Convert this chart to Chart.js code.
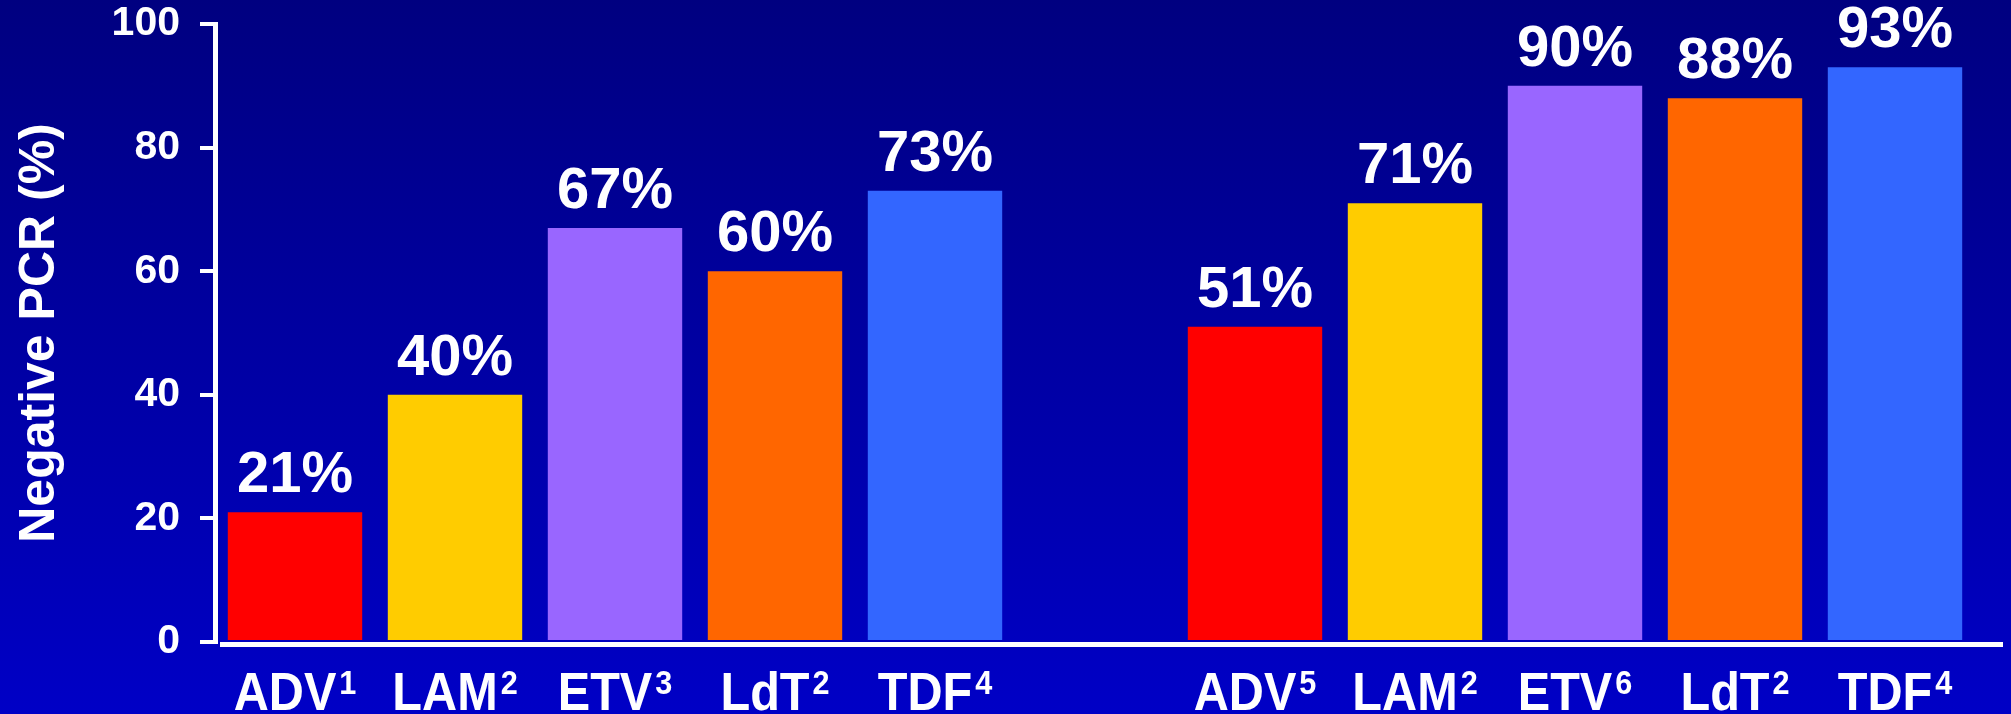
<html>
  <head>
    <script src="https://cdn.jsdelivr.net/npm/chart.js@4.4.1/dist/chart.umd.min.js"></script>
    <style>
      body { margin: 0; background: #000; }
      #wrap {
        width: 2011px; height: 714px; position: relative;
        background: linear-gradient(#000080, #0000c6);
      }
    </style>
  </head>
  <body>
    <div id="wrap"><canvas id="chart" width="2011" height="714"></canvas></div>
    <script>
// categories (blank slot separates the two groups)
const drugs = ["ADV", "LAM", "ETV", "LdT", "TDF", "", "ADV", "LAM", "ETV", "LdT", "TDF"];
const refs = ["1", "2", "3", "2", "4", "", "5", "2", "6", "2", "4"];
const negativePcr = [21, 40, 67, 60, 73, null, 51, 71, 90, 88, 93];
const barColors = ["#ff0000", "#ffcc00", "#9966ff", "#ff6600", "#3366ff", "#000000",
                   "#ff0000", "#ffcc00", "#9966ff", "#ff6600", "#3366ff"];
const yMin = 0, yMax = 100, yStep = 20;
const yTitle = "Negative PCR (%)";

const FONT = "'Liberation Sans', Arial, sans-serif";

var labelPlugin = {
  id: "labels",
  afterDatasetsDraw(chart) {
    var ctx = chart.ctx;
    var area = chart.chartArea;
    var xs = chart.scales.x;
    var meta = chart.getDatasetMeta(0);
    ctx.save();
    // baseline
    ctx.fillStyle = "#fff";
    ctx.fillRect(area.left + 5, area.bottom, 2003 - area.left - 5, 5);

    meta.data.forEach((bar, i) => {
      var v = negativePcr[i];
      if (v == null) return;
      ctx.font = "bold 58px " + FONT;
      ctx.textAlign = "center";
      ctx.textBaseline = "alphabetic";
      ctx.fillText(v + "%", bar.x, bar.y - 20);
    });

    // category labels with superscript refs
    drugs.forEach((d, i) => {
      if (!d) return;
      var cx = xs.getPixelForValue(i);
      var sx = 0.9;
      ctx.font = "bold 54px " + FONT;
      var w1 = ctx.measureText(d).width * sx;
      ctx.font = "bold 34px " + FONT;
      var w2 = ctx.measureText(refs[i]).width * sx;
      var x0 = cx - (w1 + 3 + w2) / 2;
      ctx.textAlign = "left";
      ctx.textBaseline = "alphabetic";
      ctx.save();
      ctx.translate(x0, 710);
      ctx.scale(sx, 1);
      ctx.font = "bold 54px " + FONT;
      ctx.fillText(d, 0, 0);
      ctx.restore();
      ctx.save();
      ctx.translate(x0 + w1 + 3, 694);
      ctx.scale(sx, 1);
      ctx.font = "bold 34px " + FONT;
      ctx.fillText(refs[i], 0, 0);
      ctx.restore();
    });
    ctx.restore();
  }
};

new Chart(document.getElementById("chart"), {
  type: "bar",
  data: {
    labels: drugs,
    datasets: [{
      data: negativePcr,
      backgroundColor: barColors,
      borderWidth: 0,
      barPercentage: 0.84,
      categoryPercentage: 1
    }]
  },
  options: {
    responsive: false,
    animation: false,
    devicePixelRatio: 1,
    layout: { padding: { top: 24, right: 36, left: 0, bottom: 0 } },
    plugins: { legend: { display: false }, tooltip: { enabled: false } },
    scales: {
      x: {
        grid: { display: false },
        border: { display: false },
        ticks: { display: false },
        afterFit: s => { s.height = 714 - 642; }
      },
      y: {
        min: yMin,
        max: yMax,
        ticks: {
          stepSize: yStep,
          color: "#fff",
          padding: 20,
          font: { family: FONT, size: 41, weight: "bold" }
        },
        grid: {
          drawOnChartArea: false,
          drawTicks: true,
          tickLength: 15,
          color: "#fff",
          lineWidth: 4
        },
        border: { color: "#fff", width: 5 },
        title: {
          display: true,
          text: yTitle,
          color: "#fff",
          padding: { top: 10, bottom: 0 },
          font: { family: FONT, size: 50, weight: "bold" }
        },
        afterFit: s => { s.width = 215; s.paddingTop = 0; s.paddingBottom = 0; }
      }
    }
  },
  plugins: [labelPlugin]
});
    </script>
  </body>
</html>
